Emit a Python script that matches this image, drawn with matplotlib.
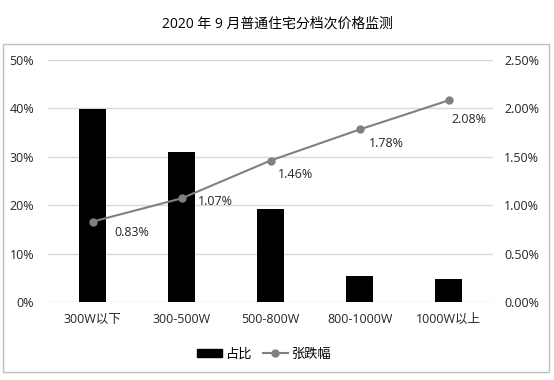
import matplotlib
matplotlib.use('Agg')
import matplotlib.pyplot as plt
from matplotlib.patches import Rectangle
from matplotlib.lines import Line2D
from matplotlib.ticker import FuncFormatter

plt.rcParams['font.family'] = ['Open Sans', 'Noto Sans CJK SC', 'DejaVu Sans']

# Data
categories = ['300W以下', '300-500W', '500-800W', '800-1000W', '1000W以上']
share = [39.9, 30.9, 19.3, 5.4, 4.8]          # 占比, %
change = [0.83, 1.07, 1.46, 1.78, 2.08]       # 张跌幅, %

fig = plt.figure(figsize=(5.54, 3.80), dpi=100)
ax = fig.add_axes([0.087, 0.205, 0.803, 0.638])
ax2 = ax.twinx()

x = range(len(categories))
ax.bar(x, share, width=0.31, color='black', zorder=3)
ax.set_ylim(0, 50)
ax.set_yticks([0, 10, 20, 30, 40, 50])
ax.yaxis.set_major_formatter(FuncFormatter(lambda v, p: f'{v:.0f}%'))
ax.grid(axis='y', color='#d9d9d9', linewidth=1, zorder=0)
ax.set_xlim(-0.5, len(categories) - 0.5)
ax.set_xticks(list(x))
ax.set_xticklabels(categories)

ax2.plot(x, change, color='#808080', linewidth=1.5, marker='o', markersize=5, zorder=4)
ax2.set_ylim(0, 2.5)
ax2.set_yticks([0, 0.5, 1.0, 1.5, 2.0, 2.5])
ax2.yaxis.set_major_formatter(FuncFormatter(lambda v, p: f'{v:.2f}%'))

# label offsets in points (dx, dy)
offsets = [(28, -8), (24, -2), (18, -10), (19, -10), (15, -14)]
for i, v in enumerate(change):
    ax2.annotate(f'{v:.2f}%', (i, v), xytext=offsets[i], textcoords='offset points',
                 ha='center', va='center', fontsize=9, color='#262626')

for a in (ax, ax2):
    for s in a.spines.values():
        s.set_visible(False)
    a.tick_params(length=0, labelsize=9, colors='#262626')
ax.tick_params(axis='y', pad=10)
ax2.tick_params(axis='y', pad=8)
ax.tick_params(axis='x', pad=8)

fig.text(0.5, 0.938, '2020 年 9 月普通住宅分档次价格监测', ha='center', va='center',
         fontsize=10, color='black')

# outer border
fig.patches.append(Rectangle((0.006, 0.022), 0.985, 0.862, transform=fig.transFigure,
                             fill=False, edgecolor='#bfbfbf', linewidth=1))

handles = [Rectangle((0, 0), 1, 1, color='black'),
           Line2D([0], [0], color='#808080', marker='o', markersize=5, linewidth=1.5)]
fig.legend(handles, ['占比', '张跌幅'], loc='center', bbox_to_anchor=(0.477, 0.068),
           ncol=2, frameon=False, fontsize=9.5, handlelength=1.9, handleheight=0.5,
           columnspacing=0.8, handletextpad=0.3)

fig.savefig('out.png', dpi=100)
